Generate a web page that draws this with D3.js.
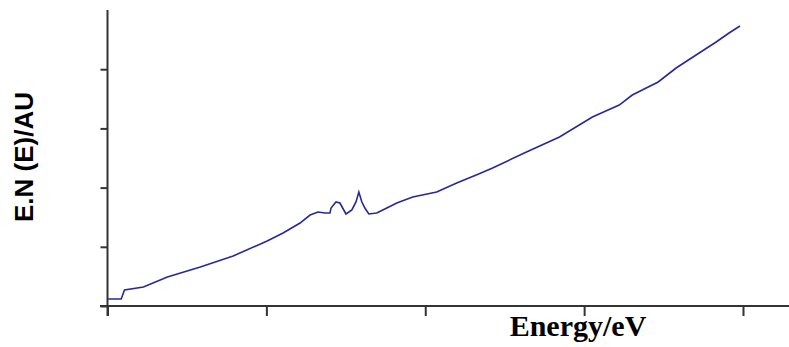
<!DOCTYPE html>
<html>
<head>
<meta charset="utf-8">
<script src="https://cdn.jsdelivr.net/npm/d3@7"></script>
<style>
  body { margin: 0; background: #fff; }
  svg { display: block; }
</style>
</head>
<body>
<script>
const width = 789;
const height = 347;

// spectrum (arbitrary units)
const energy = [0, 0.086, 0.107, 0.226, 0.377, 0.584, 0.791, 1.005, 1.105, 1.212, 1.275, 1.325, 1.369, 1.400, 1.407, 1.438, 1.463, 1.501, 1.538, 1.564, 1.582, 1.601, 1.620, 1.645, 1.695, 1.821, 1.921, 2.072, 2.198, 2.336, 2.424, 2.637, 2.845, 3.052, 3.221, 3.303, 3.466, 3.579, 3.724, 3.831, 3.912, 3.981];
const intensity = [0.118, 0.118, 0.270, 0.321, 0.490, 0.659, 0.845, 1.098, 1.233, 1.402, 1.537, 1.588, 1.571, 1.571, 1.655, 1.757, 1.740, 1.554, 1.622, 1.757, 1.926, 1.757, 1.655, 1.554, 1.571, 1.740, 1.841, 1.926, 2.078, 2.230, 2.331, 2.601, 2.855, 3.193, 3.395, 3.564, 3.784, 4.020, 4.274, 4.459, 4.611, 4.730];
const xTicks = [0, 1, 2, 3, 4];
const yTicks = [0, 1, 2, 3, 4];

const x = d3.scaleLinear().domain([0, 4]).range([107.5, 743]);
const y = d3.scaleLinear().domain([0, 5]).range([306, 10]);

const svg = d3.select("body")
	.append("svg")
	.attr("width", width)
	.attr("height", height);

const axisColor = "#333";

// x axis
const gx = svg.append("g")
	.attr("transform", "translate(0," + y(0) + ")")
	.call(d3.axisBottom(x).tickValues(xTicks).tickSize(10).tickFormat(""));
gx.select(".domain").remove();
gx.selectAll("line").attr("stroke", axisColor).attr("stroke-width", 2);
gx.append("line")
	.attr("x1", 100).attr("x2", width)
	.attr("stroke", axisColor).attr("stroke-width", 2);

// y axis
const gy = svg.append("g")
	.attr("transform", "translate(" + x(0) + ",0)")
	.call(d3.axisLeft(y).tickValues(yTicks).tickSize(7).tickFormat(""));
gy.select(".domain").remove();
gy.selectAll("line").attr("stroke", axisColor).attr("stroke-width", 2);
gy.append("line")
	.attr("y1", y(5)).attr("y2", y(0) + 10)
	.attr("stroke", axisColor).attr("stroke-width", 2);

// spectrum
const line = d3.line()
	.x((d, i) => x(energy[i]))
	.y((d) => y(d));

svg.append("path")
	.datum(intensity)
	.attr("d", line)
	.attr("fill", "none")
	.attr("stroke", "#28289a")
	.attr("stroke-width", 1.6);

// labels
svg.append("text")
	.attr("x", 578)
	.attr("y", 336)
	.attr("text-anchor", "middle")
	.style("font-family", "'Liberation Serif', 'Times New Roman', serif")
	.style("font-weight", "bold")
	.style("font-size", "30px")
	.text("Energy/eV");

svg.append("text")
	.attr("transform", "translate(33,157) rotate(-90)")
	.attr("text-anchor", "middle")
	.style("font-family", "'Liberation Sans', Arial, sans-serif")
	.style("font-weight", "bold")
	.style("font-size", "26px")
	.text("E.N (E)/AU");
</script>
</body>
</html>
